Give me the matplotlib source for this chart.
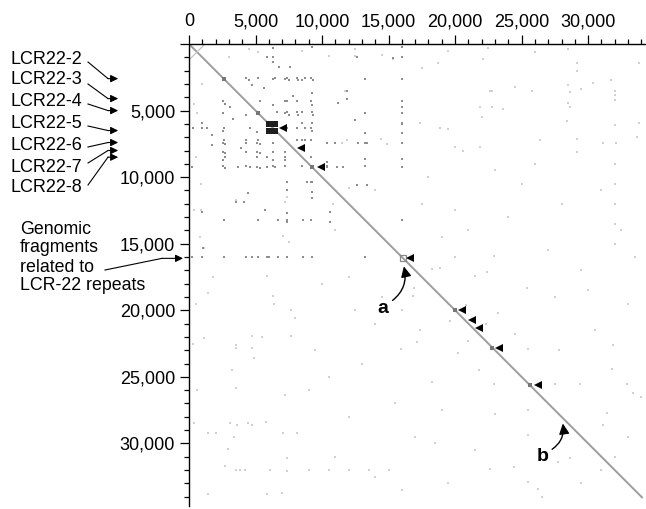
import matplotlib.pyplot as plt
from matplotlib.ticker import MultipleLocator, FuncFormatter
from matplotlib.lines import Line2D
import numpy as np

plt.rcParams['font.family'] = ['Liberation Sans', 'DejaVu Sans']

# sequence length (bp) - the self-match diagonal runs from 0 to here
seq_len = 34100

# repeat hits, upper triangle only (x > y); plot is symmetric
dark_x = [4300, 5200, 6500, 7400, 8100, 8700, 9200, 13200, 16000,
          5900, 6800, 7600, 16000, 16000,
          5300, 7400, 8100, 9200, 16000,
          6600, 7400, 8100, 13200, 16000,
          7400, 8100, 8700, 9200, 16000, 13200, 16000,
          8100, 8700, 9200, 13200, 16000,
          9200, 16000,
          10400, 11100, 11600, 16000,
          8500, 8500, 8500, 8500,
          9250, 9250, 9250, 9250, 9250, 9250,
          10400, 11000, 13400, 10400, 10400,
          11900, 11900, 11200, 12600, 12700, 13200, 13200, 15300, 12500, 12600, 13400,
          16000, 16000, 16000,
          6300, 6300, 6300, 6300, 6300, 7200, 7200, 7200,
          4500, 7500, 8200, 9300, 7500, 8200, 9300, 4700, 5600, 7800]
dark_y = [2550, 2550, 2550, 2550, 2550, 2550, 2550, 2600, 2600,
          1000, 1700, 1700, 200, 1000,
          4300, 4300, 4300, 4300, 4300,
          5100, 5100, 5100, 5200, 5200,
          6300, 6300, 6300, 6300, 6000, 6700, 6700,
          7200, 7200, 7200, 7400, 7400,
          8500, 8600,
          9250, 9250, 9250, 9250,
          2700, 5100, 5900, 7200,
          200, 3700, 4600, 5100, 5900, 6500,
          7400, 7400, 7400, 8900, 9200,
          3500, 4100, 4400, 1000, 7400, 8600, 9200, 1050, 5700, 10600, 10600,
          4700, 5900, 13200,
          300, 1000, 1350, 2600, 4600, 2600, 4300, 5200,
          2700, 2700, 2700, 2700, 5300, 5300, 5300, 3100, 3300, 3900]

faint_x = [12500, 15300, 11700, 17400, 18900, 19500, 18700, 17500, 22100, 22600, 21900, 22800,
           22000, 20000, 20600, 21900, 14900, 14400, 11900, 11500,
           29200, 29200, 33800, 24500, 25800, 28500, 28600, 29500, 30400, 31700, 32000, 32000,
           32000, 22800, 23600, 28500, 28600, 28400, 32000, 33800, 29200, 31100, 32100, 29200,
           26400, 33700,
           20000, 22900, 18300, 18900, 21500, 25400, 23200, 22400, 20800, 22300,
           29400, 31900, 32900, 31400, 33400, 25500, 27500, 31800, 34000, 31100,
           31000, 32500, 27500, 30500, 33500, 28000, 25000, 27000, 24000, 33000, 29500,
           32000, 32000, 32000, 32000, 32000, 20000, 18000, 23000, 26000, 21000, 17500,
           14000, 12000, 19000, 24500, 27800, 30000, 33000, 32000,
           4500, 5200, 8500, 12500, 19500, 22500, 26000, 28500, 3000, 10500, 14500]
faint_y = [900, 1100, 3500, 5900, 6300, 6400, 1400, 1800, 1100, 3500, 4700, 4700,
           5500, 7700, 8000, 7700, 7500, 7100, 7200, 7400,
           1400, 2000, 1400, 3200, 3500, 3100, 3600, 3400, 2900, 2700, 3500, 3800,
           4200, 3500, 4900, 4400, 4700, 5800, 6100, 5900, 7100, 7400, 7400, 8100,
           7200, 7000,
           16000, 15900, 16900, 16800, 17400, 18300, 20200, 17100, 19600, 21000,
           25500, 22600, 25500, 27700, 26200, 22900, 25500, 24400, 26500, 28600,
           11000, 14000, 19000, 21500, 16000, 12000, 10500, 15500, 13000, 19500, 17000,
           9000, 10500, 12000, 13500, 15000, 12500, 10000, 9500, 9000, 14000, 12000,
           11000, 10800, 14500, 21800, 23000, 18500, 29500, 31000,
           400, 600, 500, 400, 500, 300, 600, 400, 1000, 900, 800]

# darker spots on the diagonal
spot_pos = [2600, 5200, 9250, 20000, 22800, 25600]
# dense LCR22 block near 6 kb
block_x = [6000, 6500, 6000, 6500]
block_y = [6000, 6000, 6500, 6500]

# arrowheads marking hits next to the diagonal
tri_x = [7100, 8400, 9900, 16600, 20500, 21300, 21800, 23300, 26200]
tri_y = [6300, 7800, 9250, 16050, 20000, 20700, 21300, 22800, 25600]

lcr_labels = ['LCR22-2', 'LCR22-3', 'LCR22-4', 'LCR22-5', 'LCR22-6', 'LCR22-7', 'LCR22-8']
lcr_pos = [2600, 4100, 5000, 6500, 7400, 8000, 8500]
fragment_pos = 16100
fragment_lines = ['Genomic', 'fragments', 'related to', 'LCR-22 repeats']

W, H = 646, 509
fig = plt.figure(figsize=(W / 100, H / 100), dpi=100)
ax = fig.add_axes([189 / W, 3 / H, 457 / W, 462 / H])

def px(x, y):
    return (x / W, 1 - y / H)

# faint background hits, mirrored
ax.plot(faint_x + faint_y, faint_y + faint_x, 's', color='#d0d0d0', ms=1.6, mew=0)
ax.plot(dark_x + dark_y, dark_y + dark_x, 's', color='#8e8e8e', ms=1.7, mew=0)

# main diagonal and the small inverted repeat at the origin
ax.plot([0, seq_len], [0, seq_len], color='#9d9d9d', lw=1.4, solid_capstyle='butt')
ax.plot([0, 1200], [1200, 0], color='#c4c4c4', lw=0.9)

ax.plot(spot_pos, spot_pos, 's', color='#777777', ms=2.4, mew=0)
ax.plot(block_x, block_y, 's', color='#1e1e1e', ms=3.9, mew=0)
ax.plot([fragment_pos], [fragment_pos], 's', mfc='none', mec='#888888', ms=4.5, mew=0.9)

ax.plot(tri_x, tri_y, '<', color='black', ms=5.5, mew=0)

ax.set_xlim(0, 34350)
ax.set_ylim(34700, 0)

for s in ['right', 'bottom']:
    ax.spines[s].set_visible(False)
for s in ['top', 'left']:
    ax.spines[s].set_linewidth(1.0)

ax.xaxis.tick_top()
ax.xaxis.set_major_locator(MultipleLocator(5000))
ax.xaxis.set_minor_locator(MultipleLocator(1000))
ax.yaxis.set_major_locator(MultipleLocator(5000))
ax.yaxis.set_minor_locator(MultipleLocator(1000))
ax.xaxis.set_major_formatter(FuncFormatter(lambda v, p: f'{int(v):,}'))
ax.yaxis.set_major_formatter(FuncFormatter(lambda v, p: '' if v == 0 else f'{int(v):,}'))
ax.tick_params(which='major', length=6.5, width=0.9, labelsize=13, pad=3.5)
ax.tick_params(which='minor', length=3.8, width=0.9)

# left side labels with kinked arrows
text_y = [59, 80, 102, 124, 145, 167, 188]
start_y = [62, 84, 104, 126, 147, 163, 185]
for lab, pos, ty, sy in zip(lcr_labels, lcr_pos, text_y, start_y):
    fig.text(*px(10, ty), lab, fontsize=13, ha='left', va='center')
    bend_y = ax.transData.transform((0, pos))[1]
    fig.add_artist(Line2D([88 / W, 108 / W], [1 - sy / H, bend_y / H], color='black', lw=0.8))
    ax.annotate('', xy=(-0.155, pos), xycoords=('axes fraction', 'data'),
                xytext=(108 / W, bend_y / H), textcoords='figure fraction',
                arrowprops=dict(arrowstyle='-|>,head_length=0.45,head_width=0.22',
                                color='black', lw=0.8, shrinkA=0, shrinkB=0),
                annotation_clip=False)

for i, line in enumerate(fragment_lines):
    fig.text(*px(20, 229 + i * 19), line, fontsize=12.8, ha='left', va='center')
frag_y = ax.transData.transform((0, fragment_pos))[1]
fig.add_artist(Line2D([105 / W, 162 / W], [1 - 270 / H, frag_y / H], color='black', lw=0.8))
ax.annotate('', xy=(-0.013, fragment_pos), xycoords=('axes fraction', 'data'),
            xytext=(162 / W, frag_y / H), textcoords='figure fraction',
            arrowprops=dict(arrowstyle='-|>,head_length=0.45,head_width=0.22',
                            color='black', lw=0.8, shrinkA=0, shrinkB=0),
            annotation_clip=False)

# a and b callouts
ax.annotate('a', xy=(16150, 16700), xytext=(14600, 19850), fontsize=14, fontweight='bold',
            ha='center', va='center',
            arrowprops=dict(arrowstyle='-|>,head_length=0.45,head_width=0.22', color='black',
                            lw=1.0, connectionstyle='arc3,rad=0.35', relpos=(1.0, 0.8),
                            shrinkA=1, shrinkB=0))
ax.annotate('b', xy=(28100, 28500), xytext=(26550, 31000), fontsize=14, fontweight='bold',
            ha='center', va='center',
            arrowprops=dict(arrowstyle='-|>,head_length=0.45,head_width=0.22', color='black',
                            lw=1.0, connectionstyle='arc3,rad=0.35', relpos=(1.0, 0.8),
                            shrinkA=1, shrinkB=0))

plt.savefig('out.png', dpi=100)
